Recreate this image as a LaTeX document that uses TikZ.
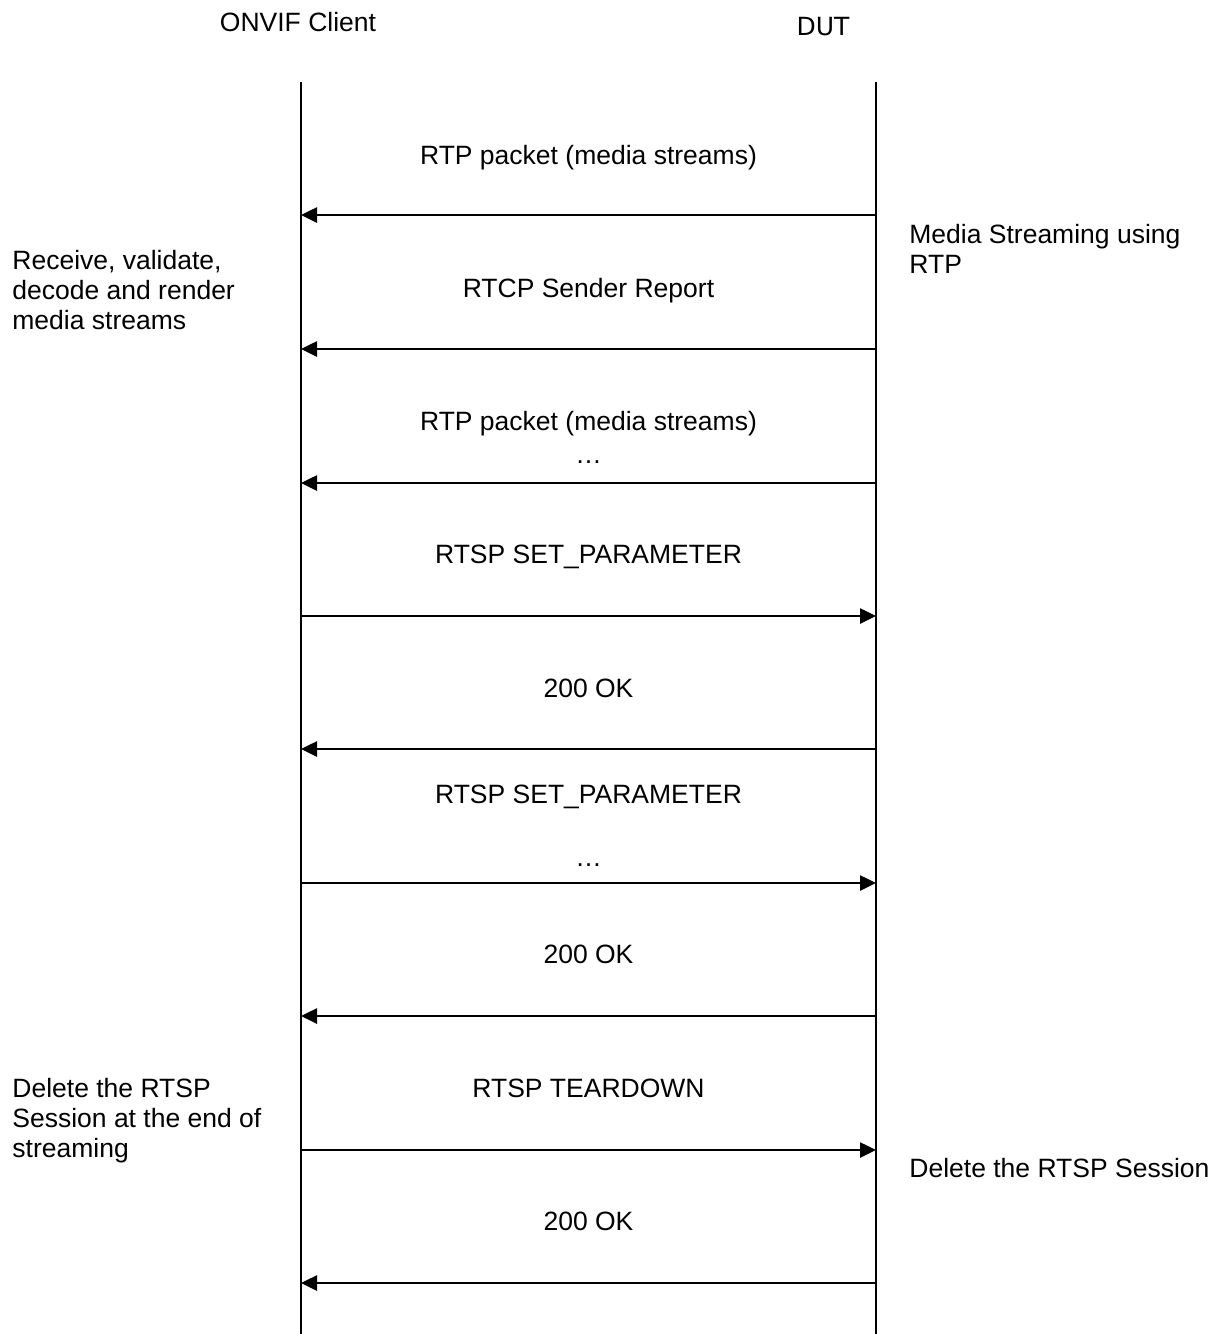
\documentclass[tikz,border=0pt]{standalone}
\usepackage{fontspec}
\setmainfont{Liberation Sans}
\newfontfamily\dutfont{DejaVu Sans}
\usetikzlibrary{arrows.meta,positioning}

\begin{document}
\begin{tikzpicture}[x=0.5pt,y=-0.5pt,font=\fontsize{13.25}{15}\selectfont]
\tikzstyle{life}=[line width=0.9pt]
\tikzstyle{msg}=[line width=1.3pt,-{Triangle[length=8pt,width=7.5pt]}]
\tikzstyle{lbl}=[inner sep=0pt,anchor=base]
\tikzstyle{note}=[inner sep=0pt,anchor=base west,align=left]
\useasboundingbox (0,0) rectangle (1219,1334);
% actors
\node[lbl] (client) at (298,31) {ONVIF Client};
\node[lbl,font=\dutfont\fontsize{12.5}{15}\selectfont] (dut) at (823,35) {DUT};
\coordinate (ctop) at (301,82);
\coordinate (cbot) at (301,1334);
\coordinate (dtop) at (876,82);
\coordinate (dbot) at (876,1334);
\draw[life] (ctop) -- (cbot);
\draw[life] (dtop) -- (dbot);
% message levels on both lifelines
\foreach \i/\y in {1/215,2/349,3/483,4/616,5/749,6/883,7/1016,8/1150,9/1283}{
  \coordinate (c\i) at (301,\y);
  \coordinate (d\i) at (876,\y);
}
% messages
\draw[msg] (d1) -- (c1);
\node[lbl] (m1) at (588.5,164) {RTP packet (media streams)};
\draw[msg] (d2) -- (c2);
\node[lbl] (m2) at (588.5,297.5) {RTCP Sender Report};
\draw[msg] (d3) -- (c3);
\node[lbl] (m3) at (588.5,430.5) {RTP packet (media streams)};
\node[lbl] (m3b) at (588.5,463) {…};
\draw[msg] (c4) -- (d4);
\node[lbl] (m4) at (588.5,563.5) {RTSP SET\_PARAMETER};
\draw[msg] (d5) -- (c5);
\node[lbl] (m5) at (588.5,697.5) {200 OK};
\draw[msg] (c6) -- (d6);
\node[lbl] (m6) at (588.5,803.5) {RTSP SET\_PARAMETER};
\node[lbl] (m6b) at (588.5,866) {…};
\draw[msg] (d7) -- (c7);
\node[lbl] (m7) at (588.5,963.5) {200 OK};
\draw[msg] (c8) -- (d8);
\node[lbl] (m8) at (588.5,1097.5) {RTSP TEARDOWN};
\draw[msg] (d9) -- (c9);
\node[lbl] (m9) at (588.5,1230.5) {200 OK};
% side notes (base = last line)
\node[note] (n1) at (12,329.5) {Receive, validate,\\decode and render\\media streams};
\node[note] (n2) at (909,273.5) {Media Streaming using\\RTP};
\node[note] (n3) at (12,1157) {Delete the RTSP\\Session at the end of\\streaming};
\node[note] (n4) at (909,1177) {Delete the RTSP Session};
\end{tikzpicture}
\end{document}
